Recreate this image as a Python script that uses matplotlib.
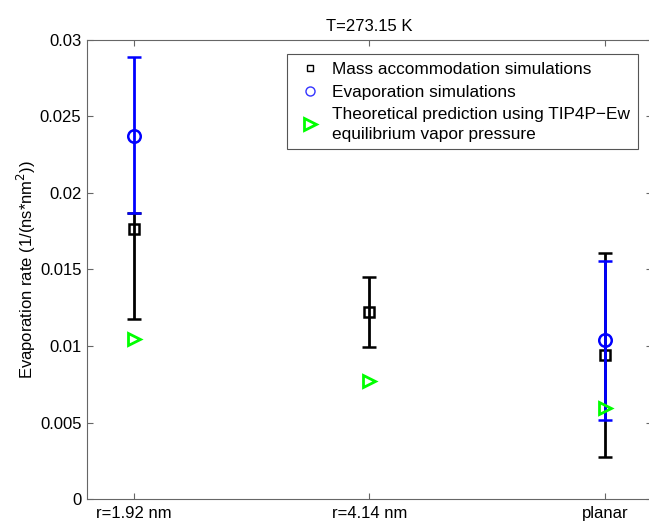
import matplotlib
matplotlib.use("Agg")
import matplotlib.pyplot as plt
from matplotlib.lines import Line2D
import numpy as np

plt.rcParams['font.family'] = ['Liberation Sans', 'DejaVu Sans']
plt.rcParams['font.size'] = 12

categories = ["r=1.92 nm", "r=4.14 nm", "planar"]

# Mass accommodation simulations (black squares)
mass_x = [1, 2, 3]
mass_vals = [0.01764, 0.01222, 0.00944]
mass_err_low = [0.00588, 0.00230, 0.00668]
mass_err_high = [0.00104, 0.00228, 0.00665]

# Evaporation simulations (blue circles)
evap_x = [1, 3]
evap_vals = [0.02370, 0.01042]
evap_err_low = [0.00502, 0.00524]
evap_err_high = [0.00516, 0.00515]

# Theoretical prediction (green triangles)
theo_x = [1, 2, 3]
theo_vals = [0.01045, 0.00773, 0.00596]

yticks = [0, 0.005, 0.01, 0.015, 0.02, 0.025, 0.03]
yticklabels = ["0", "0.005", "0.01", "0.015", "0.02", "0.025", "0.03"]

W, H = 649, 523
fig = plt.figure(figsize=(W / 100, H / 100), dpi=100)
ax_left, ax_right, ax_top, ax_bottom = 87, 652, 39.5, 499.3
ax = fig.add_axes([ax_left / W, 1 - ax_bottom / H, (ax_right - ax_left) / W, (ax_bottom - ax_top) / H])

ax.errorbar(mass_x, mass_vals, yerr=[mass_err_low, mass_err_high], fmt='s', color='black',
            mfc='none', mec='black', ms=7.5, mew=1.8, elinewidth=2, capsize=5, capthick=2, zorder=2)
ax.errorbar(evap_x, evap_vals, yerr=[evap_err_low, evap_err_high], fmt='o', color='#0000ff',
            mfc='none', mec='#0000ff', ms=9, mew=1.8, elinewidth=2, capsize=5, capthick=2, zorder=3)
ax.plot(theo_x, theo_vals, linestyle='none', marker='>', mfc='none', mec='#00ff00', ms=8.5,
        mew=2, zorder=4)

ax.set_xlim(0.8, 3.2)
ax.set_ylim(0, 0.03)
ax.set_xticks([1, 2, 3])
ax.set_xticklabels(categories)
ax.set_yticks(yticks)
ax.set_yticklabels(yticklabels)

for sp in ax.spines.values():
    sp.set_color('#666666')
    sp.set_linewidth(0.8)
ax.tick_params(direction='in', length=4, width=0.8, color='#666666', top=True, right=True,
               labelcolor='black')
ax.tick_params(axis='x', pad=5)
ax.tick_params(axis='y', pad=4)

ax.set_ylabel("Evaporation rate (1/(ns*nm$^2$))", labelpad=1)
ax.set_title("T=273.15 K", fontsize=12, pad=6)

handles = [
    Line2D([], [], linestyle='none', marker='s', mfc='none', mec='black', ms=5, mew=1),
    Line2D([], [], linestyle='none', marker='o', mfc='none', mec='#3333ff', ms=6.5, mew=1),
    Line2D([], [], linestyle='none', marker='>', mfc='none', mec='#00ff00', ms=8.5, mew=2),
]
labels = ["Mass accommodation simulations", "Evaporation simulations",
          "Theoretical prediction using TIP4P\u2212Ew\nequilibrium vapor pressure"]
leg = fig.legend(handles, labels, loc='upper right', bbox_to_anchor=(638 / W, 1 - 54 / H),
                 bbox_transform=fig.transFigure, borderaxespad=0, fancybox=False,
                 edgecolor='#555555', framealpha=1, handlelength=1.7, handletextpad=0.45,
                 borderpad=0.45, labelspacing=0.45, fontsize=12.4)
leg.get_frame().set_linewidth(0.8)
leg.get_texts()[2].set_linespacing(1.35)

fig.savefig("out.png", dpi=100)
